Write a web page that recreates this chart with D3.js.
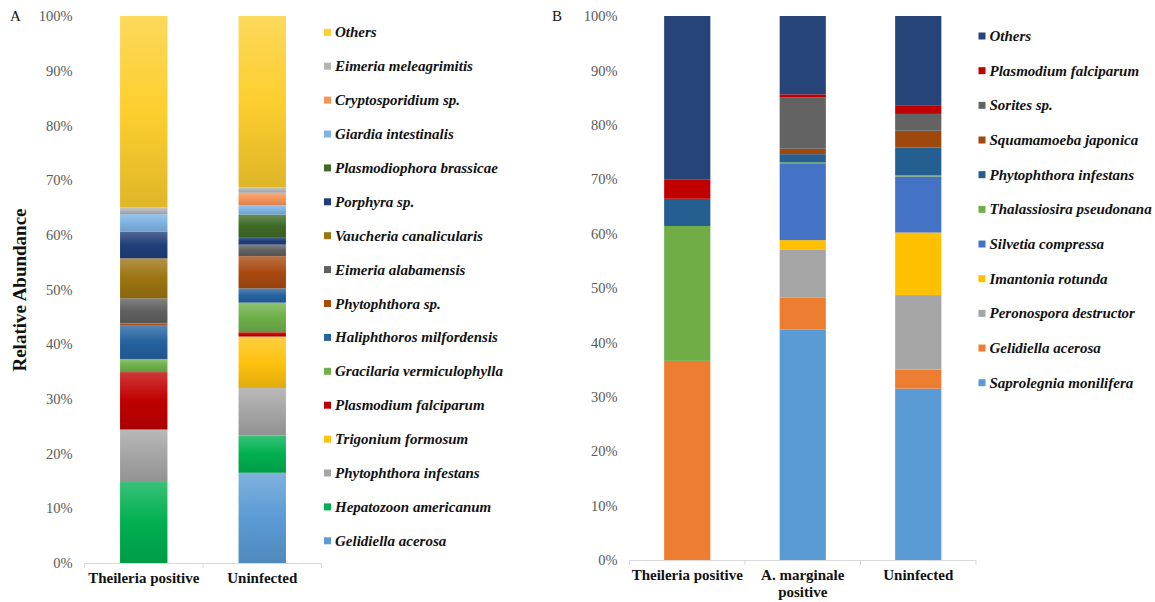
<!DOCTYPE html>
<html>
<head>
<meta charset="utf-8">
<script src="https://cdn.jsdelivr.net/npm/d3@7"></script>
<style>
  body { margin: 0; background: #fff; }
  svg { display: block; font-family: "Liberation Serif", "Times New Roman", serif; }
</style>
</head>
<body>
<svg id="chart" width="1155" height="602"></svg>
<script>
// ---- Panel A: eukaryotic taxa, stacked bottom to top ----
const groupsA = ["Theileria positive", "Uninfected"];
const taxaA = [
  "Gelidiella acerosa", "Hepatozoon americanum", "Phytophthora infestans", "Trigonium formosum",
  "Plasmodium falciparum", "Gracilaria vermiculophylla", "Haliphthoros milfordensis", "Phytophthora sp.",
  "Eimeria alabamensis", "Vaucheria canalicularis", "Porphyra sp.", "Plasmodiophora brassicae",
  "Giardia intestinalis", "Cryptosporidium sp.", "Eimeria meleagrimitis", "Others"
];
const theileriaA  = [0, 14.8, 9.6, 0, 10.5, 2.4, 6.1, 0.4, 4.6, 7.3, 4.9, 0, 3.2, 0, 1.2, 35.0];
const uninfectedA = [16.5, 6.8, 8.7, 9.4, 0.8, 5.4, 2.6, 5.9, 2.1, 0, 1.4, 4.1, 1.7, 2.3, 1.0, 31.3];
const coloursA = [
  "#5B9BD5", "#00B050", "#A5A5A5", "#FFC20E",
  "#C00000", "#6FB04A", "#2462A0", "#A94A10",
  "#606060", "#9C7410", "#203F7A", "#3F6B28",
  "#7EB3E3", "#F4945A", "#B4B4B4", "#FDCE2E"
];

// ---- Panel B ----
const groupsB = ["Theileria positive", "A. marginale positive", "Uninfected"];
const taxaB = [
  "Saprolegnia monilifera", "Gelidiella acerosa", "Peronospora destructor", "Imantonia rotunda",
  "Silvetia compressa", "Thalassiosira pseudonana", "Phytophthora infestans", "Squamamoeba japonica",
  "Sorites sp.", "Plasmodium falciparum", "Others"
];
const theileriaB  = [0, 36.6, 0, 0, 0, 24.8, 5.0, 0, 0, 3.5, 30.1];
const marginaleB  = [42.4, 5.8, 8.8, 1.8, 14.0, 0.3, 1.5, 1.0, 9.4, 0.6, 14.4];
const uninfectedB = [31.5, 3.5, 13.7, 11.5, 10.3, 0.2, 5.1, 3.1, 3.1, 1.6, 16.4];
const coloursB = [
  "#5B9BD5", "#ED7D31", "#A5A5A5", "#FFC000",
  "#4472C4", "#70AD47", "#255E91", "#9E480E",
  "#636363", "#C00000", "#264478"
];

const percentTicks = [0, 10, 20, 30, 40, 50, 60, 70, 80, 90, 100];

const svg = d3.select("#chart");
const defs = svg.append("defs");

function toRows(groups, taxa, seriesByGroup) {
  return groups.map((g, gi) => {
    const row = { group: g };
    taxa.forEach((t, ti) => { row[t] = seriesByGroup[gi][ti]; });
    return row;
  });
}

// Vertical shaded fill: lighter at the top, darker towards the bottom
function shadedFill(id, colour) {
  const c = d3.color(colour);
  const g = defs.append("linearGradient")
    .attr("id", id).attr("x1", 0).attr("y1", 0).attr("x2", 0).attr("y2", 1);
  g.append("stop").attr("offset", "0%").attr("stop-color", d3.interpolateRgb(colour, "#fff")(0.22));
  g.append("stop").attr("offset", "50%").attr("stop-color", colour);
  g.append("stop").attr("offset", "100%").attr("stop-color", c.darker(0.35).formatHex());
  return `url(#${id})`;
}

function wrapLabel(textSel, maxWidth, lineHeight) {
  textSel.each(function () {
    const text = d3.select(this);
    const words = text.text().split(/\s+/);
    const x = text.attr("x");
    text.text(null);
    let line = [];
    let tspan = text.append("tspan").attr("x", x).attr("dy", 0);
    let lineNo = 0;
    words.forEach(w => {
      line.push(w);
      tspan.text(line.join(" "));
      if (tspan.node().getComputedTextLength() > maxWidth && line.length > 1) {
        line.pop();
        tspan.text(line.join(" "));
        line = [w];
        lineNo++;
        tspan = text.append("tspan").attr("x", x).attr("dy", lineHeight).text(w);
      }
    });
  });
}

function drawPanel(cfg) {
  const rows = toRows(cfg.groups, cfg.taxa, cfg.series);
  const stack = d3.stack().keys(cfg.taxa)(rows);

  const x = d3.scaleBand().domain(cfg.groups).range([cfg.left, cfg.right]).paddingInner(0.6).paddingOuter(0.3);
  const y = d3.scaleLinear().domain([0, 100]).range([cfg.base, cfg.top]);

  const fills = cfg.colours.map((c, i) => cfg.shaded ? shadedFill(`${cfg.id}-fill-${i}`, c) : c);

  const g = svg.append("g");

  // stacked bars
  g.selectAll("g.layer").data(stack).join("g")
    .attr("class", "layer")
    .attr("fill", (d, i) => fills[i])
    .selectAll("rect").data(d => d.filter(s => s[1] - s[0] > 0)).join("rect")
    .attr("x", d => x(d.data.group))
    .attr("width", x.bandwidth())
    .attr("y", d => y(d[1]))
    .attr("height", d => y(d[0]) - y(d[1]));

  // y axis: labels only
  const yAxis = d3.axisLeft(y).tickValues(percentTicks).tickSize(0).tickPadding(12)
    .tickFormat(d => d + "%");
  const ya = g.append("g").attr("transform", `translate(${cfg.left},0)`).call(yAxis);
  ya.select(".domain").remove();
  ya.selectAll("text")
    .attr("font-family", "Liberation Serif, Times New Roman, serif")
    .attr("font-size", 14.5).attr("fill", "#595959");

  // x axis baseline with category separators
  const step = x.step();
  const bounds = d3.range(cfg.groups.length + 1).map(i => cfg.left + i * step);
  g.append("line")
    .attr("x1", cfg.left).attr("x2", cfg.right)
    .attr("y1", cfg.base + 0.5).attr("y2", cfg.base + 0.5)
    .attr("stroke", "#D9D9D9").attr("stroke-width", 1);
  g.selectAll("line.sep").data(bounds).join("line")
    .attr("class", "sep")
    .attr("x1", d => d).attr("x2", d => d)
    .attr("y1", cfg.base).attr("y2", cfg.base + 5)
    .attr("stroke", "#D9D9D9").attr("stroke-width", 1);

  // category labels
  g.selectAll("text.cat").data(cfg.groups).join("text")
    .attr("class", "cat")
    .attr("x", d => x(d) + x.bandwidth() / 2)
    .attr("y", cfg.base + 20)
    .attr("text-anchor", "middle")
    .attr("font-weight", "bold")
    .attr("font-size", 15)
    .attr("fill", "#111")
    .text(d => d)
    .call(wrapLabel, step - 2, 17);

  // panel letter
  g.append("text")
    .attr("x", cfg.letterX).attr("y", cfg.top + 5)
    .attr("font-size", 15).attr("fill", "#111")
    .text(cfg.letter);

  // legend, top entry = last stacked series
  const legendData = cfg.taxa.map((t, i) => ({ t, i })).reverse();
  const lg = g.selectAll("g.leg").data(legendData).join("g")
    .attr("class", "leg")
    .attr("transform", (d, k) => `translate(${cfg.legendX},${cfg.legendY0 + k * cfg.legendStep})`);
  lg.append("rect")
    .attr("x", 0).attr("y", -3.5).attr("width", 7).attr("height", 7)
    .attr("fill", d => cfg.colours[d.i]);
  lg.append("text")
    .attr("x", 11).attr("y", 5)
    .attr("font-size", 15).attr("font-weight", "bold").attr("font-style", "italic")
    .attr("fill", "#111")
    .text(d => d.t);
}

drawPanel({
  id: "pa", letter: "A", letterX: 10,
  groups: groupsA, taxa: taxaA, series: [theileriaA, uninfectedA], colours: coloursA, shaded: true,
  left: 84.5, right: 321.5, base: 563, top: 16,
  legendX: 324, legendY0: 32.3, legendStep: 33.9
});

drawPanel({
  id: "pb", letter: "B", letterX: 552,
  groups: groupsB, taxa: taxaB, series: [theileriaB, marginaleB, uninfectedB], colours: coloursB, shaded: false,
  left: 629.5, right: 976, base: 560, top: 16,
  legendX: 978.5, legendY0: 36, legendStep: 34.67
});

// shared y-axis title
svg.append("text")
  .attr("transform", "translate(26,290) rotate(-90)")
  .attr("text-anchor", "middle")
  .attr("font-size", 19).attr("font-weight", "bold").attr("fill", "#111")
  .text("Relative Abundance");
</script>
</body>
</html>
